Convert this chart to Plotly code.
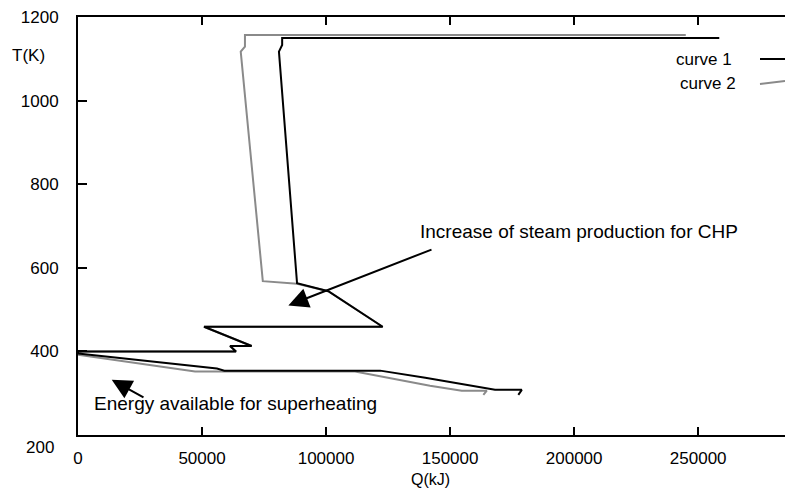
import plotly.graph_objects as go

# Curve 1 (black) - composite curve points (Q in kJ, T in K)
curve1_q = [258500, 82300, 82300, 81000, 88300, 100900, 122800, 50800, 70000, 61300, 63700,
            800, 0, 0, 56000, 59000, 121800, 140000, 168100, 178900, 177500]
curve1_t = [1150, 1150, 1133, 1117, 563, 544, 459, 459, 413, 413, 400,
            400, 400, 395, 359, 354, 354, 337, 308, 308, 296]

# Curve 2 (gray)
curve2_q = [245000, 67300, 67300, 65600, 74500, 88300, 100900, 122800, 50800, 70000, 61300, 63700,
            0, 0, 47200, 111700, 141900, 154700, 164800, 163400]
curve2_t = [1157, 1157, 1129, 1117, 568, 562, 544, 459, 459, 413, 413, 400,
            400, 392, 352, 352, 318, 306, 306, 296]

x_ticks = [0, 50000, 100000, 150000, 200000, 250000]
y_ticks = [400, 600, 800, 1000, 1200]

FONT = "Liberation Sans, Arial, sans-serif"

fig = go.Figure()
fig.add_trace(go.Scatter(x=curve2_q, y=curve2_t, mode="lines",
                         line=dict(color="#8a8a8a", width=2), name="curve 2"))
fig.add_trace(go.Scatter(x=curve1_q, y=curve1_t, mode="lines",
                         line=dict(color="#000000", width=2), name="curve 1"))

fig.update_layout(
    template="none",
    width=785, height=488,
    margin=dict(l=78, r=0, t=17, b=53, autoexpand=False),
    paper_bgcolor="white", plot_bgcolor="white",
    showlegend=False,
    font=dict(family=FONT, size=17, color="black"),
    xaxis=dict(range=[0, 285000], tickvals=x_ticks, ticktext=[str(v) for v in x_ticks],
               ticks="inside", ticklen=8, tickwidth=2, tickcolor="black",
               showline=True, linecolor="black", linewidth=2, mirror="ticks",
               showgrid=False, zeroline=False, ticklabelstandoff=7, automargin=False),
    yaxis=dict(range=[200, 1200], tickvals=y_ticks, ticktext=[str(v) for v in y_ticks],
               ticks="inside", ticklen=9, tickwidth=2, tickcolor="black",
               showline=True, linecolor="black", linewidth=2,
               showgrid=False, zeroline=False, ticklabelstandoff=14, automargin=False),
)

ann = []
# axis titles
ann.append(dict(text="Q(kJ)", xref="paper", yref="paper", x=0.498, y=-0.1055,
                xanchor="center", yanchor="middle", showarrow=False, font=dict(size=16)))
ann.append(dict(text="T(K)", xref="paper", yref="paper", x=-0.0707, y=0.909,
                xanchor="center", yanchor="middle", showarrow=False, font=dict(size=17)))
ann.append(dict(text="200", xref="paper", yref="paper", x=-0.031, y=-0.031,
                xanchor="right", yanchor="middle", showarrow=False, font=dict(size=17)))
# legend texts
ann.append(dict(text="curve 1", xref="paper", yref="paper", x=0.928, y=0.8995,
                xanchor="right", yanchor="middle", showarrow=False, font=dict(size=17)))
ann.append(dict(text="curve 2", xref="paper", yref="paper", x=0.9335, y=0.842,
                xanchor="right", yanchor="middle", showarrow=False, font=dict(size=17)))
# arrows
ann.append(dict(x=84800, y=510, ax=143100, ay=645, xref="x", yref="y", axref="x", ayref="y",
                showarrow=True, arrowhead=2, arrowsize=2.0, arrowwidth=2, arrowcolor="black", text=""))
ann.append(dict(x=13600, y=332, ax=27000, ay=288, xref="x", yref="y", axref="x", ayref="y",
                showarrow=True, arrowhead=2, arrowsize=2.0, arrowwidth=2, arrowcolor="black", text=""))
# annotation texts
ann.append(dict(text="Increase of steam production for CHP", x=202000, y=686, xref="x", yref="y",
                xanchor="center", yanchor="middle", showarrow=False, font=dict(size=19)))
ann.append(dict(text="Energy available for superheating", x=63300, y=276, xref="x", yref="y",
                xanchor="center", yanchor="middle", showarrow=False, font=dict(size=19)))
fig.update_layout(annotations=ann)

fig.update_layout(shapes=[
    dict(type="line", xref="paper", yref="paper", x0=0.9646, y0=0.8995, x1=1.0, y1=0.8995,
         line=dict(color="black", width=2)),
    dict(type="line", xref="paper", yref="paper", x0=0.9646, y0=0.8397, x1=1.0, y1=0.8469,
         line=dict(color="#8a8a8a", width=2)),
])

fig.write_html(
    "out.html",
    config={"displayModeBar": False},
    post_script="document.body.style.margin='0';document.body.style.overflow='hidden';",
)
